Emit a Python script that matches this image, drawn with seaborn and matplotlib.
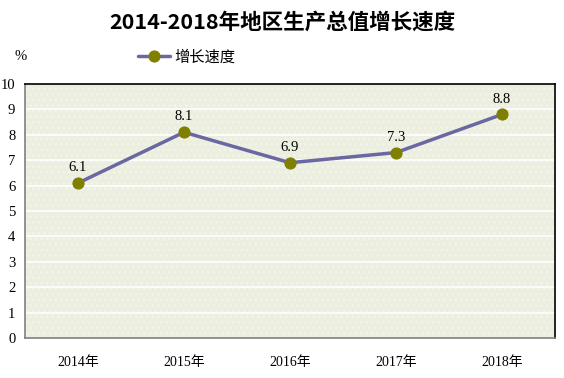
import matplotlib
matplotlib.use("Agg")
import matplotlib.pyplot as plt
import seaborn as sns
import pandas as pd
from matplotlib.patches import Rectangle

# ---------- data ----------
years = ["2014年", "2015年", "2016年", "2017年", "2018年"]
growth = [6.1, 8.1, 6.9, 7.3, 8.8]
yTicks = list(range(0, 11))

df = pd.DataFrame({"year": years, "growth": growth, "pos": range(len(years))})

sns.set_style("white")
plt.rcParams["font.family"] = ["Liberation Serif", "Noto Sans CJK SC", "DejaVu Sans"]
plt.rcParams["text.color"] = "black"
plt.rcParams["xtick.color"] = "black"
plt.rcParams["ytick.color"] = "black"

fig = plt.figure(figsize=(5.64, 3.78), dpi=100)
ax = fig.add_axes([0.0443, 0.1058, 0.9397, 0.672])

# light green background with faint dot pattern
ax.set_facecolor("#ECEFDF")
ax.add_patch(Rectangle((0, 0), 1, 1, transform=ax.transAxes, fill=False,
                       hatch="...", edgecolor="#F3F5EA", linewidth=0, zorder=0))
for y in yTicks[1:-1]:
    ax.axhline(y, color="white", linewidth=1.2, zorder=1)

sns.lineplot(data=df, x="pos", y="growth", ax=ax, color="#6A67A2", linewidth=2.5,
             marker="o", markersize=8, markerfacecolor="#7F7F00",
             markeredgecolor="#7F7F00", label="增长速度", zorder=3)

for x, v in zip(df["pos"], growth):
    ax.text(x, v + 0.35, f"{v:.1f}", ha="center", va="bottom", fontsize=10.5)

ax.set_xlim(-0.5, len(years) - 0.5)
ax.set_ylim(0, 10)
ax.set_yticks(yTicks)
ax.set_yticklabels([str(t) for t in yTicks], fontsize=10.5)
ax.set_xticks([i + 0.5 for i in range(-1, len(years))], minor=False)
ax.set_xticklabels([])
ax.set_xticks(range(len(years)), minor=True)
ax.set_xticklabels(years, minor=True, fontsize=10,
                   family=["Liberation Serif", "Noto Sans CJK SC"])
ax.tick_params(axis="x", which="major", length=5, color="#808080", width=1)
ax.tick_params(axis="x", which="minor", length=0, pad=13)
ax.tick_params(axis="y", length=5, color="#808080", width=1, pad=2, direction="out")
ax.set_xlabel("")
ax.set_ylabel("")

for s in ["left", "bottom"]:
    ax.spines[s].set_color("#808080")
for s in ["top", "right"]:
    ax.spines[s].set_color("black")
for s in ax.spines.values():
    s.set_linewidth(1.2)
    s.set_visible(True)

ax.legend(loc="center left", bbox_to_anchor=(0.213, 1.106), frameon=False,
          borderaxespad=0, borderpad=0, handlelength=2.1, handletextpad=0.3,
          prop={"family": ["Noto Sans CJK SC"], "size": 11})

fig.text(0.5, 0.942, "2014-2018年地区生产总值增长速度", ha="center", va="center",
         fontsize=15.5, fontweight="heavy", color="black",
         family=["Noto Sans CJK SC", "DejaVu Sans"])
fig.text(0.025, 0.85, "%", fontsize=10.5, ha="left", va="center")

fig.savefig("out.png", dpi=100)
